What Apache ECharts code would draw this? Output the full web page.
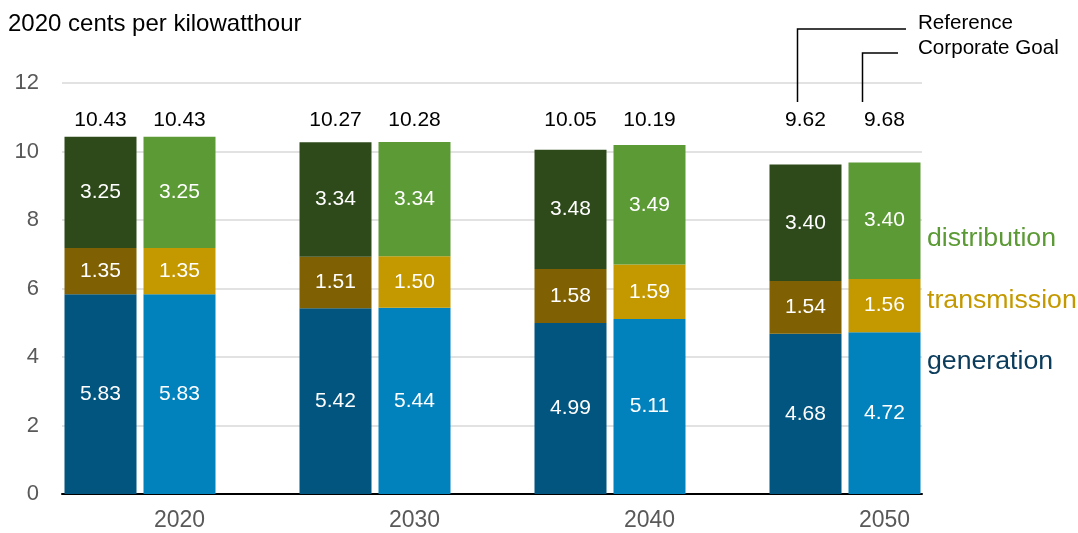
<!DOCTYPE html>
<html><head><meta charset="utf-8">
<script src="https://cdn.jsdelivr.net/npm/echarts@6/dist/echarts.min.js"></script>
<style>html,body{margin:0;padding:0;background:#fff}#c{width:1078px;height:533px}</style>
</head><body><div id="c"></div>
<script>
// ---- data ----
const years = ['2020', '2030', '2040', '2050'];
const refGeneration   = [5.83, 5.42, 4.99, 4.68];
const refTransmission = [1.35, 1.51, 1.58, 1.54];
const refDistribution = [3.25, 3.34, 3.48, 3.40];
const refTotal        = [10.43, 10.27, 10.05, 9.62];
const goalGeneration   = [5.83, 5.44, 5.11, 4.72];
const goalTransmission = [1.35, 1.50, 1.59, 1.56];
const goalDistribution = [3.25, 3.34, 3.49, 3.40];
const goalTotal        = [10.43, 10.28, 10.19, 9.68];
const yMin = 0, yMax = 12, yStep = 2;

// ---- style ----
const FONT = '"Liberation Sans", Arial, sans-serif';
const BAR_W = 72, BAR_GAP = 7;
const LABEL_LEVEL = 10.92;
const C = {
  refGen: '#01557f', goalGen: '#0182bd',
  refTr: '#7f6003', goalTr: '#c49900',
  refDi: '#2e4a1b', goalDi: '#5c9a35'
};

function seg(name, stack, data, color) {
  return {
    type: 'bar', name, stack, data, xAxisIndex: 1, yAxisIndex: 1,
    barWidth: BAR_W, barGap: (BAR_GAP / BAR_W * 100) + '%',
    itemStyle: { color },
    label: { show: true, position: 'inside', color: '#fff', fontSize: 21, fontFamily: FONT,
      formatter: p => p.value.toFixed(2) },
    emphasis: { disabled: true }, animation: false
  };
}
function totals(name, arr, shift) {
  return {
    type: 'custom', name, xAxisIndex: 1, yAxisIndex: 1, z: 5, animation: false,
    data: arr.map((t, i) => [i, t]),
    renderItem: (params, api) => {
      const p = api.coord([api.value(0), LABEL_LEVEL]);
      return { type: 'text', x: p[0] + shift, y: p[1],
        style: { text: api.value(1).toFixed(2), fill: '#000', fontSize: 21, fontFamily: FONT,
          align: 'center', verticalAlign: 'middle' } };
    }
  };
}

const chart = echarts.init(document.getElementById('c'), null, { renderer: 'canvas' });
const option = {
  animation: false,
  textStyle: { fontFamily: FONT },
  title: { text: '2020 cents per kilowatthour', left: 8, top: 12, padding: 0,
    textStyle: { fontSize: 24, fontWeight: 'normal', color: '#000', fontFamily: FONT } },
  grid: [
    { left: 62, right: 156, top: 83, bottom: 39 },
    { left: 62, right: 76, top: 83, bottom: 39 }
  ],
  xAxis: [
    { type: 'category', gridIndex: 0, data: years, axisTick: { show: false }, axisLabel: { show: false },
      axisLine: { lineStyle: { color: '#000', width: 2 } } },
    { type: 'category', gridIndex: 1, data: years, axisTick: { show: false }, axisLine: { show: false },
      axisLabel: { color: '#595959', fontSize: 23, fontFamily: FONT, margin: 15 } }
  ],
  yAxis: [
    { type: 'value', gridIndex: 0, min: yMin, max: yMax, interval: yStep,
      axisLabel: { color: '#595959', fontSize: 22, fontFamily: FONT, margin: 23 },
      splitLine: { lineStyle: { color: '#d9d9d9', width: 1.5 } } },
    { type: 'value', gridIndex: 1, min: yMin, max: yMax, interval: yStep, show: false,
      splitLine: { show: false } }
  ],
  series: [
    seg('Reference generation', 'ref', refGeneration, C.refGen),
    seg('Reference transmission', 'ref', refTransmission, C.refTr),
    seg('Reference distribution', 'ref', refDistribution, C.refDi),
    seg('Corporate Goal generation', 'goal', goalGeneration, C.goalGen),
    seg('Corporate Goal transmission', 'goal', goalTransmission, C.goalTr),
    seg('Corporate Goal distribution', 'goal', goalDistribution, C.goalDi),
    { type: 'bar', name: 'spacer', stack: 'spacer', xAxisIndex: 1, yAxisIndex: 1,
      barWidth: BAR_W, data: years.map(() => '-') },
    totals('Reference total', refTotal, -(BAR_W + BAR_GAP)),
    totals('Corporate Goal total', goalTotal, 0)
  ]
};
chart.setOption(option);

// annotations tied to the 2050 bars
const cx = chart.convertToPixel({ xAxisIndex: 1 }, 3);
const refX = cx - (BAR_W + BAR_GAP) - 8;
const goalX = cx - 22;
const labelTop = chart.convertToPixel({ yAxisIndex: 1 }, LABEL_LEVEL) - 18;
chart.setOption({
  graphic: [
    { type: 'polyline', shape: { points: [[refX, labelTop], [refX, 29], [906, 29]] },
      style: { stroke: '#000', lineWidth: 1.5, fill: null } },
    { type: 'polyline', shape: { points: [[goalX, labelTop], [goalX, 53], [898, 53]] },
      style: { stroke: '#000', lineWidth: 1.5, fill: null } },
    { type: 'text', x: 918, y: 23, style: { text: 'Reference', fill: '#000', fontSize: 20.6, fontFamily: FONT, verticalAlign: 'middle' } },
    { type: 'text', x: 918, y: 48, style: { text: 'Corporate Goal', fill: '#000', fontSize: 20.6, fontFamily: FONT, verticalAlign: 'middle' } },
    { type: 'text', x: 927, y: 239, style: { text: 'distribution', fill: C.goalDi, fontSize: 26.7, fontFamily: FONT, verticalAlign: 'middle' } },
    { type: 'text', x: 927, y: 301, style: { text: 'transmission', fill: C.goalTr, fontSize: 26.7, fontFamily: FONT, verticalAlign: 'middle' } },
    { type: 'text', x: 927, y: 362, style: { text: 'generation', fill: '#0b3c5c', fontSize: 26.7, fontFamily: FONT, verticalAlign: 'middle' } }
  ]
});
</script></body></html>
